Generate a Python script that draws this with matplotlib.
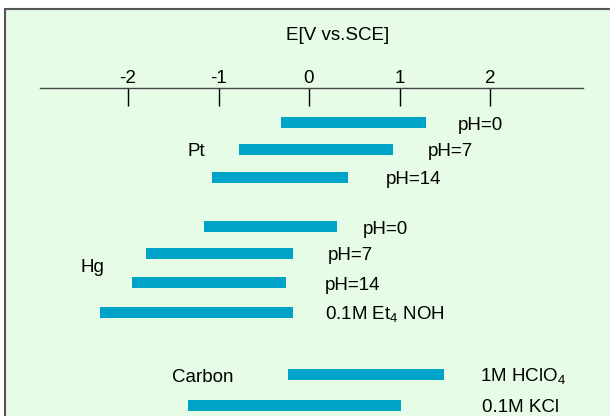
import matplotlib.pyplot as plt
from matplotlib.patches import Rectangle

plt.rcParams['font.family'] = ['Liberation Sans', 'DejaVu Sans']
plt.rcParams['mathtext.fontset'] = 'custom'
plt.rcParams['mathtext.rm'] = 'Liberation Sans'

# potential windows (V vs. SCE)
electrodes = ['Pt', 'Hg', 'Carbon']
electrolytes = ['pH=0', 'pH=7', 'pH=14',
                'pH=0', 'pH=7', 'pH=14', r'0.1M Et$_\mathrm{4}$ NOH',
                r'1M HClO$_\mathrm{4}$', '0.1M KCl']
e_low = [-0.31, -0.77, -1.07, -1.16, -1.80, -1.96, -2.31, -0.23, -1.34]
e_high = [1.29, 0.93, 0.43, 0.31, -0.18, -0.25, -0.18, 1.49, 1.02]
ticks = [-2, -1, 0, 1, 2]

# layout (pixel rows, label x in V)
row_y = [122, 149, 177, 226, 253, 282, 312, 374, 405]
label_x = [1.64, 1.31, 0.85, 0.59, 0.21, 0.18, 0.18, 1.89, 1.91]
group_pos = [(-1.34, 151), (-2.53, 268), (-1.51, 378)]

bar_color = '#00a3c8'
bg = '#e6fce6'
fs = 13.5

fig = plt.figure(figsize=(6.1, 4.16), dpi=100, facecolor='white')
W, H = 610, 416
fig.patches.append(Rectangle((5 / W, -0.1), 1.1, 1.1 - 9 / H, transform=fig.transFigure,
                             facecolor=bg, edgecolor='#555555', linewidth=1.5, zorder=-5))

x0, x1, ax_top = 40, 583, 88
ax = fig.add_axes([x0 / W, 0, (x1 - x0) / W, (H - ax_top) / H])
ax.set_zorder(1)
ax.set_facecolor('none')
ax.set_xlim((x0 - 309) / 90.5, (x1 - 309) / 90.5)
ax.set_ylim(H, ax_top)

for s in ['bottom', 'left', 'right']:
    ax.spines[s].set_visible(False)
ax.spines['top'].set_color('#444444')
ax.spines['top'].set_linewidth(1.0)
ax.xaxis.tick_top()
ax.set_xticks(ticks)
ax.set_xticklabels([str(t) for t in ticks])
ax.tick_params(axis='x', direction='in', length=13, width=1, pad=0.5,
               labelsize=fs, colors='black')
ax.set_yticks([])
ax.text(0.32, 36, 'E[V vs.SCE]', fontsize=fs, ha='center', va='center', clip_on=False)

widths = [h - l for l, h in zip(e_low, e_high)]
ax.barh(row_y, widths, left=e_low, height=11, color=bar_color, clip_on=False)

for x, y, t in zip(label_x, row_y, electrolytes):
    ax.text(x, y + 3, t, fontsize=fs, va='center', ha='left', clip_on=False)

for (x, y), t in zip(group_pos, electrodes):
    ax.text(x, y, t, fontsize=fs, va='center', ha='left')

fig.savefig('out.png', dpi=100, facecolor='white')
